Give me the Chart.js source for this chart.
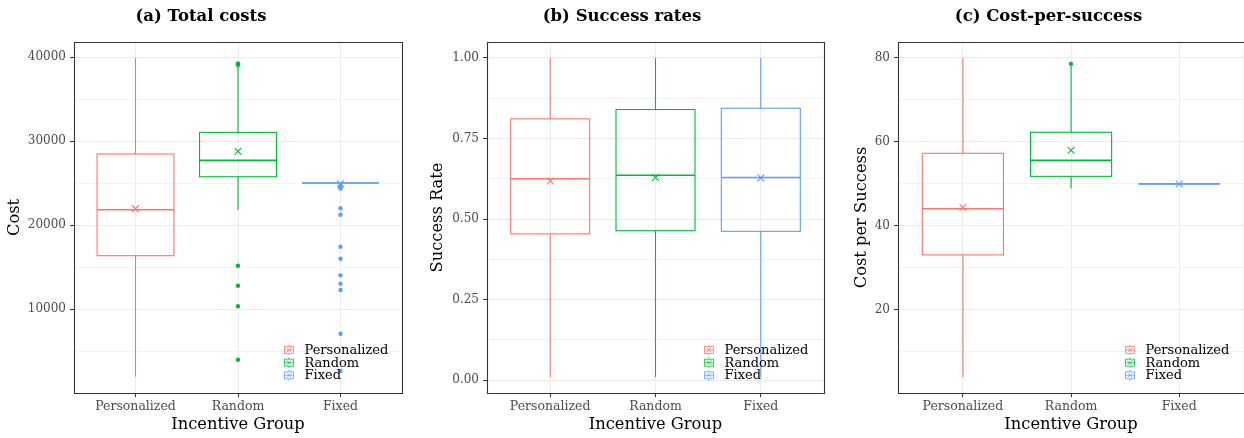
<!DOCTYPE html>
<html>
<head>
<meta charset="utf-8">
<script src="https://cdn.jsdelivr.net/npm/chart.js@4.4.0/dist/chart.umd.min.js"></script>
<style>
  html, body { margin: 0; padding: 0; background: #ffffff; }
  body { width: 1244px; height: 438px; position: relative; overflow: hidden; }
  canvas { position: absolute; top: 0; }
</style>
</head>
<body>
<canvas id="costChart" width="410" height="438" style="left:0px"></canvas>
<canvas id="rateChart" width="415" height="438" style="left:420px"></canvas>
<canvas id="cpsChart" width="400" height="438" style="left:850px"></canvas>
<script>
// Incentive groups and their colours
const groups = ['Personalized', 'Random', 'Fixed'];
const groupColors = ['#F8766D', '#00BA38', '#619CFF'];

// (a) Total costs: five-number summaries, means and outliers per group
const costLow    = [1940, 21790, 25000];
const costQ1     = [16350, 25750, 25000];
const costMedian = [21820, 27700, 25000];
const costQ3     = [28450, 31030, 25000];
const costHigh   = [39880, 38950, 25000];
const costMean   = [21950, 28780, 24900];
const costOutPersonalized = [];
const costOutRandom = [39250, 39150, 39050, 15150, 12770, 10320, 3960];
const costOutFixed  = [24700, 24500, 24350, 21990, 21230, 17420, 15990, 14010, 13010, 12260, 7060, 2620];
const costTicks = [10000, 20000, 30000, 40000];

// (b) Success rates
const rateLow    = [0.01, 0.01, 0.01];
const rateQ1     = [0.454, 0.464, 0.462];
const rateMedian = [0.625, 0.636, 0.629];
const rateQ3     = [0.811, 0.840, 0.844];
const rateHigh   = [1.0, 1.0, 1.0];
const rateMean   = [0.618, 0.629, 0.628];
const rateTicks  = [0, 0.25, 0.5, 0.75, 1.0];

// (c) Cost per success
const cpsLow    = [4.0, 48.9, 50.0];
const cpsQ1     = [33.1, 51.8, 50.0];
const cpsMedian = [44.1, 55.6, 50.0];
const cpsQ3     = [57.3, 62.3, 50.0];
const cpsHigh   = [80.0, 78.3, 50.0];
const cpsMean   = [44.4, 58.0, 50.0];
const cpsOutPersonalized = [];
const cpsOutRandom = [78.6];
const cpsOutFixed  = [];
const cpsTicks = [20, 40, 60, 80];

const FONT = "'DejaVu Serif', serif";
const BOX_WIDTH = 0.75;

function withAlpha(hex, a) {
  const n = parseInt(hex.slice(1), 16);
  return `rgba(${(n >> 16) & 255},${(n >> 8) & 255},${n & 255},${a})`;
}

// Draws boxes, whiskers and medians in data units through the chart's scales
const boxPlugin = {
  id: 'boxes',
  beforeDatasetsDraw(chart) {
    const s = chart.options.plugins.boxes;
    if (!s) return;
    const { ctx } = chart;
    const x = chart.scales.x, y = chart.scales.y;
    ctx.save();
    ctx.beginPath();
    ctx.rect(chart.chartArea.left, chart.chartArea.top,
             chart.chartArea.right - chart.chartArea.left,
             chart.chartArea.bottom - chart.chartArea.top);
    ctx.clip();
    groups.forEach((g, i) => {
      const col = groupColors[i];
      const xc = x.getPixelForValue(i);
      const xl = x.getPixelForValue(i - BOX_WIDTH / 2);
      const xr = x.getPixelForValue(i + BOX_WIDTH / 2);
      const yLow = y.getPixelForValue(s.low[i]);
      const yQ1 = y.getPixelForValue(s.q1[i]);
      const yMed = y.getPixelForValue(s.median[i]);
      const yQ3 = y.getPixelForValue(s.q3[i]);
      const yHigh = y.getPixelForValue(s.high[i]);
      ctx.strokeStyle = col;
      ctx.lineWidth = 1.1;
      // whiskers
      ctx.beginPath();
      ctx.moveTo(xc, yQ3); ctx.lineTo(xc, yHigh);
      ctx.moveTo(xc, yQ1); ctx.lineTo(xc, yLow);
      ctx.stroke();
      // box
      ctx.strokeRect(xl, yQ3, xr - xl, yQ1 - yQ3);
      // median
      ctx.lineWidth = 1.6;
      ctx.beginPath();
      ctx.moveTo(xl, yMed); ctx.lineTo(xr, yMed);
      ctx.stroke();
    });
    ctx.restore();
  },
  afterDraw(chart) {
    const s = chart.options.plugins.boxes;
    if (!s) return;
    const { ctx, chartArea } = chart;
    ctx.save();
    // panel border
    ctx.strokeStyle = '#333333';
    ctx.lineWidth = 1.1;
    ctx.beginPath();
    ctx.moveTo(Math.round(chartArea.left) + 0.5, Math.round(chartArea.top) + 0.5);
    ctx.lineTo(Math.round(chartArea.right) + 0.5, Math.round(chartArea.top) + 0.5);
    ctx.lineTo(Math.round(chartArea.right) + 0.5, Math.round(chartArea.bottom) + 0.5);
    ctx.lineTo(Math.round(chartArea.left) + 0.5, Math.round(chartArea.bottom) + 0.5);
    ctx.closePath();
    ctx.stroke();
    // legend inside the panel, lower right
    const kx = chartArea.left + s.legendX;
    const rows = [-43, -30.3, -17.7];
    ctx.font = `13px ${FONT}`;
    ctx.textBaseline = 'middle';
    ctx.textAlign = 'left';
    groups.forEach((g, i) => {
      const cy = chartArea.bottom + rows[i];
      const col = withAlpha(groupColors[i], 0.75);
      ctx.strokeStyle = col;
      ctx.lineWidth = 1;
      ctx.strokeRect(kx + 0.5, cy - 3.5, 9, 7);
      ctx.beginPath();
      ctx.moveTo(kx + 5, cy - 5.5); ctx.lineTo(kx + 5, cy - 3.5);
      ctx.moveTo(kx + 5, cy + 3.5); ctx.lineTo(kx + 5, cy + 5.5);
      ctx.moveTo(kx + 0.5, cy); ctx.lineTo(kx + 9.5, cy);
      ctx.moveTo(kx + 2.5, cy - 2.5); ctx.lineTo(kx + 7.5, cy + 2.5);
      ctx.moveTo(kx + 7.5, cy - 2.5); ctx.lineTo(kx + 2.5, cy + 2.5);
      ctx.stroke();
      ctx.fillStyle = '#000000';
      ctx.fillText(g, kx + 20.5, cy + 0.5);
    });
    ctx.restore();
  }
};

function pointsFor(values, i) {
  return values.map(v => ({ x: i, y: v }));
}

function makeChart(id, cfg) {
  const datasets = [];
  cfg.outliers.forEach((vals, i) => {
    datasets.push({
      type: 'scatter',
      data: pointsFor(vals, i),
      pointStyle: 'circle',
      pointRadius: 2.2,
      backgroundColor: groupColors[i],
      borderColor: groupColors[i],
      borderWidth: 0,
      order: 2
    });
  });
  cfg.mean.forEach((v, i) => {
    datasets.push({
      type: 'scatter',
      data: [{ x: i, y: v }],
      pointStyle: 'crossRot',
      pointRadius: 4.8,
      borderColor: groupColors[i],
      borderWidth: 1.1,
      backgroundColor: groupColors[i],
      order: 1
    });
  });

  const yTicks = cfg.ticks;
  const step = yTicks[1] - yTicks[0];
  const allTicks = [];
  for (let k = 0; k < yTicks.length; k++) {
    allTicks.push({ value: yTicks[k], major: true });
    const mid = yTicks[k] + step / 2;
    if (mid < cfg.ymax) allTicks.push({ value: mid, major: false });
  }
  const below = yTicks[0] - step / 2;
  if (below > cfg.ymin) allTicks.push({ value: below, major: false });
  allTicks.sort((a, b) => a.value - b.value);

  return new Chart(document.getElementById(id), {
    type: 'scatter',
    data: { datasets },
    plugins: [boxPlugin],
    options: {
      responsive: false,
      animation: false,
      events: [],
      layout: { padding: { left: 0, right: cfg.padRight, top: 0, bottom: 0 } },
      plugins: {
        legend: { display: false },
        tooltip: { enabled: false },
        title: {
          display: true,
          text: cfg.title,
          color: '#000000',
          font: { family: FONT, size: 16.5, weight: 'bold', lineHeight: 1.2 },
          padding: { top: 7.1, bottom: 15.1 }
        },
        boxes: {
          low: cfg.low, q1: cfg.q1, median: cfg.median, q3: cfg.q3, high: cfg.high,
          legendX: cfg.legendX
        }
      },
      scales: {
        x: {
          type: 'linear',
          min: -0.6,
          max: 2.6,
          afterBuildTicks: s => { s.ticks = [0, 1, 2].map(v => ({ value: v })); },
          afterFit: s => { s.height = 45; },
          ticks: {
            callback: v => groups[v] ?? '',
            color: '#4D4D4D',
            font: { family: FONT, size: 12.5 },
            padding: 2,
            maxRotation: 0,
            autoSkip: false
          },
          grid: {
            color: '#EBEBEB',
            lineWidth: 1,
            tickLength: 4,
            tickColor: '#333333',
            drawOnChartArea: true
          },
          border: { display: false },
          title: {
            display: true,
            text: 'Incentive Group',
            color: '#000000',
            font: { family: FONT, size: 16.3, lineHeight: 1.2 },
            padding: { top: 0, bottom: 3.2 }
          }
        },
        y: {
          type: 'linear',
          min: cfg.ymin,
          max: cfg.ymax,
          afterBuildTicks: s => { s.ticks = allTicks.map(t => ({ value: t.value, major: t.major })); },
          afterFit: s => { s.width = cfg.yWidth; },
          ticks: {
            callback: (v) => {
              const t = allTicks.find(a => Math.abs(a.value - v) < 1e-9);
              return t && t.major ? cfg.format(v) : '';
            },
            color: '#4D4D4D',
            font: { family: FONT, size: 12 },
            padding: 4,
            autoSkip: false
          },
          grid: {
            color: ctx => (ctx.tick && ctx.tick.major) ? '#EBEBEB' : '#F3F3F3',
            lineWidth: 1,
            tickLength: 4,
            tickColor: ctx => (ctx.tick && ctx.tick.major) ? '#333333' : 'rgba(0,0,0,0)'
          },
          border: { display: false },
          title: {
            display: true,
            text: cfg.ytitle,
            color: '#000000',
            font: { family: FONT, size: 16.3, lineHeight: 1.2 },
            padding: { top: cfg.yTitlePad, bottom: 0 }
          }
        }
      }
    }
  });
}

makeChart('costChart', {
  title: '(a) Total costs',
  ytitle: 'Cost',
  ymin: 0, ymax: 41790,
  ticks: costTicks,
  format: v => String(v),
  low: costLow, q1: costQ1, median: costMedian, q3: costQ3, high: costHigh, mean: costMean,
  outliers: [costOutPersonalized, costOutRandom, costOutFixed],
  yWidth: 74, padRight: 8, yTitlePad: 5.2, legendX: 210
});

makeChart('rateChart', {
  title: '(b) Success rates',
  ytitle: 'Success Rate',
  ymin: -0.0395, ymax: 1.0495,
  ticks: rateTicks,
  format: v => v.toFixed(2),
  low: rateLow, q1: rateQ1, median: rateMedian, q3: rateQ3, high: rateHigh, mean: rateMean,
  outliers: [[], [], []],
  yWidth: 67, padRight: 11, yTitlePad: 8.2, legendX: 217
});

makeChart('cpsChart', {
  title: '(c) Cost-per-success',
  ytitle: 'Cost per Success',
  ymin: 0.2, ymax: 83.8,
  ticks: cpsTicks,
  format: v => String(v),
  low: cpsLow, q1: cpsQ1, median: cpsMedian, q3: cpsQ3, high: cpsHigh, mean: cpsMean,
  outliers: [cpsOutPersonalized, cpsOutRandom, cpsOutFixed],
  yWidth: 48, padRight: 3, yTitlePad: 2.2, legendX: 227
});
</script>
</body>
</html>
